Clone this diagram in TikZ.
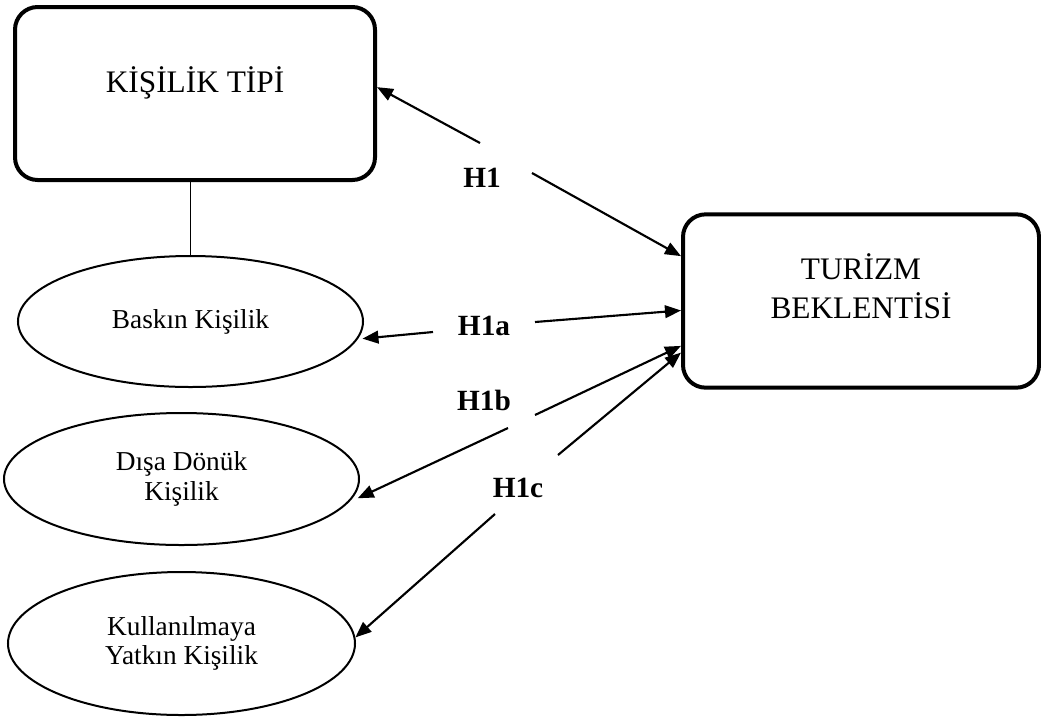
\documentclass[tikz,border=0pt]{standalone}
\usepackage{fontspec}
\setmainfont{Liberation Serif}
\usetikzlibrary{arrows.meta,shapes.geometric}

\begin{document}
\begin{tikzpicture}[x=0.75pt, y=-0.75pt,
    kutu/.style={draw, line width=3pt, rounded corners=17pt, align=center,
      font=\fontsize{23.5}{29}\selectfont},
    elips/.style={draw, ellipse, line width=1.5pt, inner sep=0pt, align=center,
      font=\fontsize{20.5}{22}\selectfont},
    hip/.style={font=\fontsize{22}{26}\selectfont\bfseries, anchor=base},
    ok/.style={line width=1.6pt, -{Triangle[length=12pt,width=9.5pt]}}]
  \useasboundingbox (0,0) rectangle (1041,722);

  % main blocks
  \node[kutu, minimum width=270pt, minimum height=129.75pt, text height=16pt, text depth=18pt]
    (kisilik) at (195,93.5) {KİŞİLİK TİPİ};
  \node[kutu, minimum width=267pt, minimum height=130pt, text depth=22pt]
    (turizm) at (861,301) {TURİZM\\BEKLENTİSİ};

  % personality types
  \node[elips, minimum width=258.75pt, minimum height=98.25pt] (baskin) at (190.5,321.5) {Baskın Kişilik};
  \node[elips, minimum width=266.25pt, minimum height=99pt] (disa) at (181.5,479) {Dışa Dönük\\Kişilik};
  \node[elips, minimum width=260.25pt, minimum height=107.25pt] (kullan) at (181.5,643.5) {Kullanılmaya\\Yatkın Kişilik};
  \draw[line width=1.2pt] (kisilik.south -| baskin.north) -- (baskin.north);

  % hypotheses: label, ends of the gap, both targets
  \foreach \ad/\lx/\ly/\ax/\ay/\bx/\by/\sol/\kisa/\sag in {
      H1/482/187/480/143/532/173/kisilik.2/0pt/turizm.166,
      H1a/484/335/433/332/535/322/baskin.-6/3.5pt/turizm.183,
      H1b/484/410/508/428/535/415/disa.-8/7.5pt/turizm.194,
      H1c/518/497/495/514/558/455/kullan.2/0pt/turizm.196} {
    \coordinate (\ad-a) at (\ax,\ay);
    \coordinate (\ad-b) at (\bx,\by);
    \node[hip] (\ad) at (\lx,\ly) {\ad};
    \draw[ok, shorten >=\kisa] (\ad-a) -- (\sol);
    \draw[ok] (\ad-b) -- (\sag);
  }
\end{tikzpicture}
\end{document}
